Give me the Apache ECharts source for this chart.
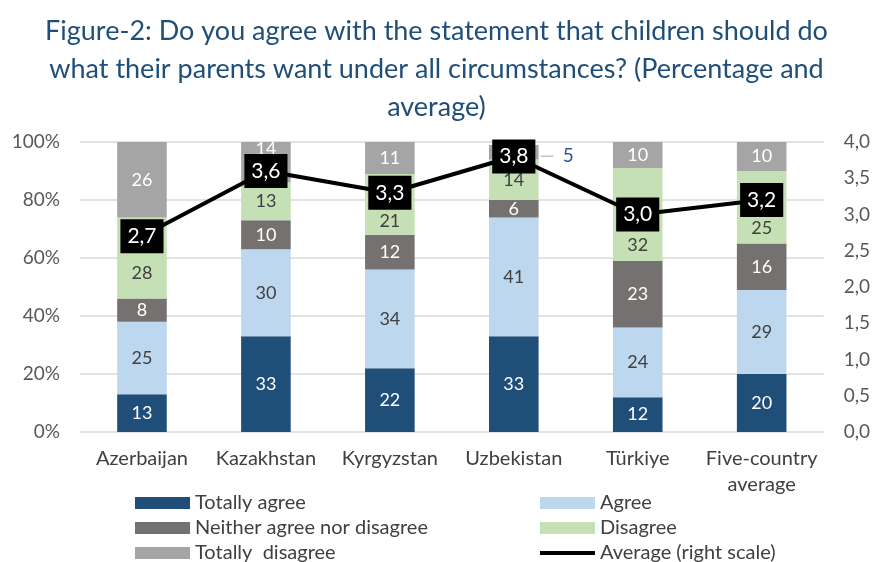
<!DOCTYPE html>
<html><head><meta charset="utf-8">
<script src="https://cdn.jsdelivr.net/npm/echarts@6/dist/echarts.min.js"></script>
<style>html,body{margin:0;padding:0;background:#fff}#c{width:873px;height:562px}</style>
</head><body><div id="c"></div>
<script>
const categories = ['Azerbaijan','Kazakhstan','Kyrgyzstan','Uzbekistan','Türkiye','Five-country\naverage'];
const totallyAgree = [13,33,22,33,12,20];
const agree = [25,30,34,41,24,29];
const neither = [8,10,12,6,23,16];
const disagree = [28,13,21,14,32,25];
const totallyDisagree = [26,14,11,5,10,10];
const average = [2.7,3.6,3.3,3.8,3.0,3.2];
const leftTicks = ['0%','20%','40%','60%','80%','100%'];

const FONT = 'Lato, "Liberation Sans", sans-serif';
const chart = echarts.init(document.getElementById('c'));
function barSeries(name, data, color, labelColor){
  return {name, type:'bar', stack:'s', data, barWidth:'40%',
    itemStyle:{color},
    label:{show:true, position:'inside', color:labelColor, fontSize:18, fontFamily:FONT},
    emphasis:{disabled:true}};
}
// label nudges (as in the reference, where labels were moved away from the average boxes)
const disagreeOffsets = [15,0,17,0,31,21];
const disagreeData = disagree.map((v,i)=> disagreeOffsets[i] ? {value:v, label:{offset:[0,disagreeOffsets[i]]}} : v);
const tdData = totallyDisagree.map((v,i)=> {
  if(i===3) return {value:v, label:{position:'right', distance:2, offset:[0,4], formatter:'{l|}  {v|5}', rich:{l:{width:13,height:1,backgroundColor:'#A6A6A6'}, v:{fontSize:19,color:'#2F5597',fontFamily:FONT}}}};
  if(i===1) return {value:v, label:{offset:[0,-13]}};
  return v;
});
function leg(name, left, top, icon, ih){
  return {left, top, itemWidth:55, itemHeight:ih||12, icon:icon||'rect', itemGap:0, data:[name],
    textStyle:{fontSize:20, color:'#404040', fontFamily:FONT}};
}
chart.setOption({
  animation:false,
  textStyle:{fontFamily:FONT},
  title:{text:'Figure-2: Do you agree with the statement that children should do\nwhat their parents want under all circumstances? (Percentage and\naverage)',
    left:'center', top:7,
    textStyle:{fontFamily:FONT, fontWeight:'normal', fontSize:27, lineHeight:38, color:'#1F4E79'}},
  grid:{left:80, right:48, top:142, bottom:130},
  legend:[
    leg('Totally agree',130,488),
    leg('Neither agree nor disagree',130,513),
    leg('Totally  disagree',130,538),
    leg('Agree',535,488),
    leg('Disagree',535,513),
    leg('Average (right scale)',535,538,'rect',4)
  ],
  xAxis:{type:'category', data:categories,
    axisLine:{show:false}, axisTick:{show:false},
    axisLabel:{interval:0, fontSize:20, color:'#404040', margin:14, lineHeight:26, fontFamily:FONT}},
  yAxis:[
    {type:'value', min:0, max:100, interval:20,
     axisLabel:{formatter:(v)=>leftTicks[Math.round(v/20)], fontSize:19, color:'#595959', margin:20, fontFamily:FONT},
     splitLine:{lineStyle:{color:'#D9D9D9', width:1.5}}},
    {type:'value', min:0, max:4, interval:0.5,
     axisLabel:{formatter:(v)=>v.toFixed(1).replace('.',','), fontSize:19, color:'#595959', margin:20, fontFamily:FONT},
     splitLine:{show:false}}
  ],
  series:[
    barSeries('Totally agree', totallyAgree, '#1F4E79', '#ffffff'),
    barSeries('Agree', agree, '#BDD7EE', '#404040'),
    barSeries('Neither agree nor disagree', neither, '#767171', '#ffffff'),
    barSeries('Disagree', disagreeData, '#C5E0B4', '#404040'),
    barSeries('Totally  disagree', tdData, '#A5A5A5', '#ffffff'),
    {name:'Average (right scale)', type:'line', yAxisIndex:1, data:average, z:10,
     symbol:'circle', symbolSize:2, lineStyle:{color:'#000', width:4}, itemStyle:{color:'#000'},
     label:{show:true, position:'inside', formatter:(p)=>p.value.toFixed(1).replace('.',','),
       backgroundColor:'#000', color:'#fff', fontSize:21, padding:[7,7,6,7], fontFamily:FONT},
     emphasis:{disabled:true}}
  ]
});
</script></body></html>
